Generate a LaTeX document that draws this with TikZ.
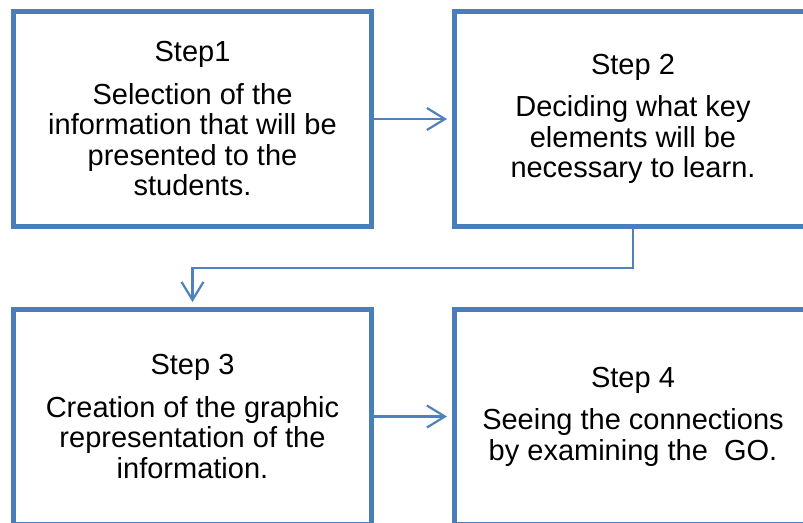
\documentclass[tikz,border=0pt]{standalone}
\usepackage{fontspec}
\setmainfont{Liberation Sans}
\usetikzlibrary{arrows.meta}
\definecolor{boxblue}{RGB}{74,126,187}
\definecolor{arrowblue}{RGB}{79,129,189}
\begin{document}
\begin{tikzpicture}[x=1pt,y=-1pt,
  stepbox/.style={draw=boxblue, line width=5pt, rectangle, minimum width=358pt,
    minimum height=215pt, inner sep=0pt, align=center,
    font=\fontsize{29}{30.5}\selectfont},
  link/.style={draw=arrowblue, line width=2.2pt, shorten >=4.5pt,
    -{Straight Barb[length=18pt,width=22pt]}}]
\useasboundingbox (0,0) rectangle (803,522);
\clip (0,0) rectangle (803,522);
\node[stepbox] (b1) at (192.5,119) {Step1\\[12pt]Selection of the\\information that will be\\presented to the\\students.};
\node[stepbox] (b2) at (633,119) {Step 2\\[12pt]Deciding what key\\elements will be\\necessary to learn.};
\node[stepbox] (b3) at (192.5,416.5) {Step 3\\[12pt]Creation of the graphic\\representation of the\\information.};
\node[stepbox] (b4) at (633,416.5) {Step 4\\[12pt]Seeing the connections\\by examining the\ \ GO.};
\coordinate (bend) at (192.5,267.7);
\draw[link] (b1.east) -- (b2.west);
\draw[link] (b3.east) -- (b4.west);
\draw[link] (b2.south) |- (bend) -- (b3.north);
\end{tikzpicture}
\end{document}
